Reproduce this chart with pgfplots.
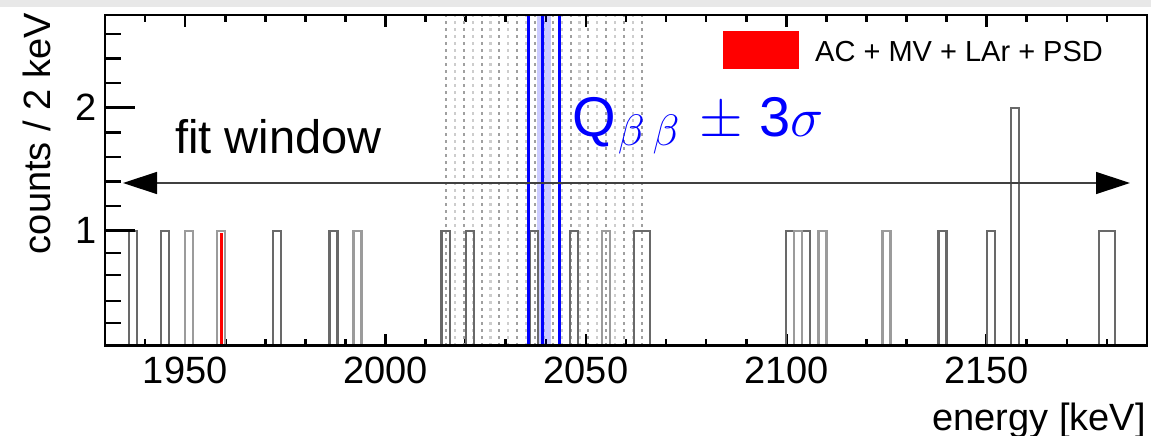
\documentclass[border=0pt]{standalone}
\usepackage{fix-cm}
\usepackage{fontspec}
\setmainfont{Liberation Sans}
\usepackage{pgfplots}
\pgfplotsset{compat=1.18}
\usetikzlibrary{arrows.meta}
\definecolor{histdark}{RGB}{105,105,105}
\definecolor{histlight}{RGB}{155,155,155}
\definecolor{hatchdark}{RGB}{160,160,160}
\definecolor{hatchlight}{RGB}{205,205,205}
\definecolor{topgrey}{RGB}{232,232,232}

% 1 px of the reference = 1 pt here
\pgfplotsset{
  gerda/.style={
    scale only axis, width=1042pt, height=330.7pt,
    xmin=1930, xmax=2190, ymin=0.065, ymax=2.754,
    at={(105pt,-345.7pt)}, anchor=south west,
    axis line style={line width=2.6pt, black},
    tick style={line width=2.6pt, black},
    tick align=inside,
    tick label style={font=\fontsize{38}{40}\selectfont, inner sep=0pt},
    /pgf/number format/assume math mode=true,
    /pgf/number format/1000 sep={},
  }
}

\begin{document}
\begin{tikzpicture}
\path[use as bounding box] (0,0) rectangle (1151pt,-436pt);
\fill[topgrey] (0,0) rectangle (1151pt,-7pt);

\begin{axis}[gerda,
  xtick={1950,2000,2050,2100,2150},
  minor xtick={1940,1950,...,2180},
  major tick length=12pt, minor tick length=7pt,
  xtick pos=both, ytick=\empty,
  xticklabel style={yshift=-11pt}]

% blinded window hatch (Qbb +- 25 keV)
\addplot[ycomb, no marks, hatchdark, line width=2.2pt, dash pattern=on 3pt off 4pt] coordinates {
(2015.1,3)(2019.5,3)(2024.0,3)(2028.4,3)(2032.8,3)(2037.3,3)(2041.7,3)
(2046.2,3)(2050.6,3)(2055.0,3)(2059.5,3)(2063.9,3)};
\addplot[ycomb, no marks, hatchlight, line width=2.2pt, dash pattern=on 3pt off 4pt] coordinates {
(2017.3,3)(2021.8,3)(2026.2,3)(2030.6,3)(2035.1,3)(2039.5,3)(2043.9,3)
(2048.4,3)(2052.8,3)(2057.2,3)(2061.7,3)};

% band around Qbb
\addplot[fill=blue, fill opacity=0.2, draw=none] coordinates {(2037.7,3)(2041.4,3)} \closedcycle;

% event histograms, 2 keV bins
\addplot[const plot mark left, no marks, histdark, line width=2.3pt] coordinates {
(1930,0)(1936,1)(1938,0)(1944,1)(1946,0)(1972,1)(1974,0)(1986,1)(1988,0)
(2014,1)(2016,0)(2020,1)(2022,0)(2036,1)(2038,0)(2046,1)(2048,0)(2062,1)(2066,0)
(2100,1)(2106,0)(2138,1)(2140,0)(2150,1)(2152,0)(2156,2)(2158,0)(2178,1)(2182,0)(2190,0)};
\addplot[const plot mark left, no marks, histlight, line width=2.3pt] coordinates {
(1930,0)(1950,1)(1952,0)(1958,1)(1960,0)(1992,1)(1994,0)(2054,1)(2056,0)
(2102,1)(2104,0)(2108,1)(2110,0)(2124,1)(2126,0)(2190,0)};
% event surviving all cuts
\addplot[fill=red, draw=none] coordinates {(1958.6,0.98)(1959.5,0.98)} \closedcycle;

% Qbb and +-3 sigma
\addplot[ycomb, no marks, blue, line width=2.7pt] coordinates {(2035.6,3)(2043.4,3)};
\addplot[ycomb, no marks, blue, line width=3.3pt] coordinates {(2039.1,3)};
\end{axis}

\begin{axis}[gerda, axis on top,
  xtick=\empty, ytick={1,2},
  minor ytick={0.25,0.43,0.64,0.82,1.2,1.4,1.6,1.8,2.2,2.4,2.6},
  major tick length=30pt, minor tick length=16pt,
  ytick pos=left,
  yticklabel style={xshift=-8pt}]
\end{axis}

\draw[line width=1.4pt, black!75,
  {Triangle[length=34pt,width=22pt,color=black]}-{Triangle[length=34pt,width=22pt,color=black]}]
  (123pt,-183pt) -- (1130pt,-183pt);
\node[anchor=base west, inner sep=0pt, font=\fontsize{47}{50}\selectfont] at (175pt,-153pt) {fit window};
\node[anchor=base west, inner sep=0pt, text=blue, font=\fontsize{56}{60}\selectfont]
  at (572pt,-136.7pt) {Q\kern2pt\raisebox{-9pt}{\fontsize{44}{44}\selectfont$\beta$\kern8pt$\beta$}\kern20pt$\pm$\kern17pt3$\sigma$};

\fill[red] (723pt,-31pt) rectangle (799pt,-69pt);
\node[anchor=base west, inner sep=0pt, font=\fontsize{29}{32}\selectfont] at (815pt,-61.7pt) {AC + MV + LAr + PSD};

\node[anchor=base east, inner sep=0pt, font=\fontsize{38}{40}\selectfont] at (1146pt,-430pt) {energy [keV]};
\node[anchor=base east, rotate=90, inner sep=0pt, font=\fontsize{38}{40}\selectfont] at (50pt,-13pt) {counts / 2 keV};
\end{tikzpicture}
\end{document}
